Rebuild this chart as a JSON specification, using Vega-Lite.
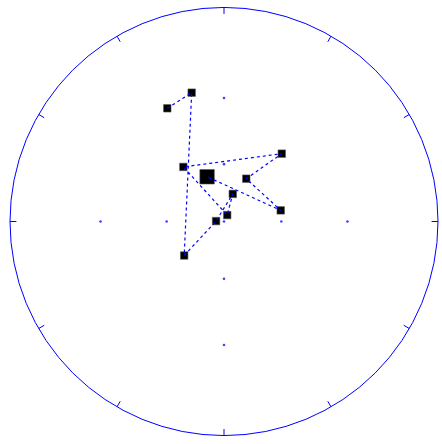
{
  "$schema": "https://vega.github.io/schema/vega-lite/v6.json",
  "width": 442,
  "height": 444,
  "autosize": "none",
  "padding": 0,
  "background": "white",
  "config": {"view": {"stroke": null}},
  "datasets": {
    "primitive": [{"x": 0, "y": 0}],
    "ticks": [
      {"az": 0, "x": 0, "y": 1, "x2": 0, "y2": 0.97},
      {"az": 30, "x": 0.5, "y": 0.866, "x2": 0.485, "y2": 0.84},
      {"az": 60, "x": 0.866, "y": 0.5, "x2": 0.84, "y2": 0.485},
      {"az": 90, "x": 1, "y": 0, "x2": 0.97, "y2": 0},
      {"az": 120, "x": 0.866, "y": -0.5, "x2": 0.84, "y2": -0.485},
      {"az": 150, "x": 0.5, "y": -0.866, "x2": 0.485, "y2": -0.84},
      {"az": 180, "x": 0, "y": -1, "x2": 0, "y2": -0.97},
      {"az": 210, "x": -0.5, "y": -0.866, "x2": -0.485, "y2": -0.84},
      {"az": 240, "x": -0.866, "y": -0.5, "x2": -0.84, "y2": -0.485},
      {"az": 270, "x": -1, "y": 0, "x2": -0.97, "y2": 0},
      {"az": 300, "x": -0.866, "y": 0.5, "x2": -0.84, "y2": 0.485},
      {"az": 330, "x": -0.5, "y": 0.866, "x2": -0.485, "y2": 0.84}
    ],
    "dips": [
      {"x": 0, "y": 0},
      {"x": 0, "y": 0.268},
      {"x": 0, "y": 0.577},
      {"x": 0, "y": -0.268},
      {"x": 0, "y": -0.577},
      {"x": 0.268, "y": 0},
      {"x": 0.577, "y": 0},
      {"x": -0.268, "y": 0},
      {"x": -0.577, "y": 0}
    ],
    "sites": [
      {"seq": 1, "kind": "site", "x": -0.265, "y": 0.529},
      {"seq": 2, "kind": "site", "x": -0.151, "y": 0.602},
      {"seq": 3, "kind": "site", "x": -0.186, "y": -0.159},
      {"seq": 4, "kind": "site", "x": -0.037, "y": 0.002},
      {"seq": 5, "kind": "site", "x": 0.041, "y": 0.129},
      {"seq": 6, "kind": "site", "x": 0.015, "y": 0.030},
      {"seq": 7, "kind": "site", "x": -0.190, "y": 0.255},
      {"seq": 8, "kind": "site", "x": 0.270, "y": 0.317},
      {"seq": 9, "kind": "site", "x": 0.104, "y": 0.200},
      {"seq": 10, "kind": "site", "x": 0.265, "y": 0.052},
      {"seq": 11, "kind": "mean", "x": -0.079, "y": 0.209}
    ]
  },
  "encoding": {
    "x": {"field": "x", "type": "quantitative", "axis": null,
          "scale": {"domain": [-1.04673, 1.01869], "nice": false, "zero": false}},
    "y": {"field": "y", "type": "quantitative", "axis": null,
          "scale": {"domain": [-1.03972, 1.03505], "nice": false, "zero": false}}
  },
  "layer": [
    {
      "data": {"name": "primitive"},
      "mark": {"type": "point", "shape": "circle", "size": 183184, "filled": false,
               "stroke": "#0000ff", "strokeWidth": 1, "opacity": 1}
    },
    {
      "data": {"name": "ticks"},
      "mark": {"type": "rule", "stroke": "#0000ff", "strokeWidth": 1},
      "encoding": {
        "x2": {"field": "x2"},
        "y2": {"field": "y2"}
      }
    },
    {
      "data": {"name": "dips"},
      "mark": {"type": "point", "shape": "circle", "filled": true, "size": 7,
               "color": "#4444ff", "opacity": 1}
    },
    {
      "data": {"name": "sites"},
      "mark": {"type": "point", "shape": "square", "filled": true, "color": "#000000",
               "stroke": "#555555", "strokeWidth": 0.6, "opacity": 1},
      "encoding": {
        "size": {"field": "kind", "type": "nominal", "legend": null,
                 "scale": {"domain": ["site", "mean"], "range": [56, 210]}}
      }
    },
    {
      "data": {"name": "sites"},
      "mark": {"type": "line", "stroke": "#0000ff", "strokeWidth": 1.2, "strokeDash": [3, 3]},
      "encoding": {
        "order": {"field": "seq", "type": "quantitative"}
      }
    }
  ]
}
